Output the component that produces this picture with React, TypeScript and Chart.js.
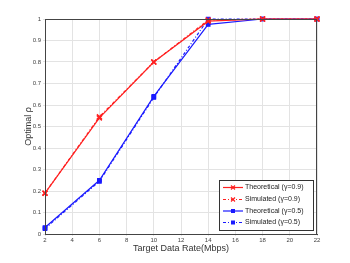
import React, { useEffect, useRef } from "react";
import { Chart, registerables } from "chart.js";
Chart.register(...registerables);

const rates = [2, 6, 10, 14, 18, 22];
const theo09 = [0.19, 0.54, 0.8, 0.99, 1, 1];
const sim09 = [0.19, 0.545, 0.8, 0.995, 1, 1];
const theo05 = [0.03, 0.25, 0.64, 0.975, 1, 1];
const sim05 = [0.025, 0.245, 0.635, 1.0, 1, 1];
const labels = [
  "Theoretical (\u03B3=0.9)",
  "Simulated (\u03B3=0.9)",
  "Theoretical (\u03B3=0.5)",
  "Simulated (\u03B3=0.5)",
];
const xTicks = [2, 4, 6, 8, 10, 12, 14, 16, 18, 20, 22];

const FONT = "'Liberation Sans', Arial, sans-serif";

const legendPlugin = {
  id: "matlabLegend",
  afterDraw(chart: any) {
    const ctx = chart.ctx;
    const ca = chart.chartArea;
    ctx.save();
    ctx.strokeStyle = "#444";
    ctx.lineWidth = 1;
    ctx.strokeRect(ca.left + 0.5, ca.top + 0.5, ca.right - ca.left - 1, ca.bottom - ca.top);
    const x0 = 219, y0 = 180, w = 94, h = 50;
    ctx.fillStyle = "#fff";
    ctx.fillRect(x0, y0, w, h);
    ctx.strokeStyle = "#333";
    ctx.strokeRect(x0 + 0.5, y0 + 0.5, w, h);
    const rows = [187.5, 199.5, 211, 222.5];
    chart.data.datasets.forEach((ds: any, i: number) => {
      const y = rows[i];
      ctx.strokeStyle = ds.borderColor;
      ctx.lineWidth = 1.2;
      ctx.setLineDash(ds.borderDash || []);
      ctx.beginPath();
      ctx.moveTo(223, y);
      ctx.lineTo(243, y);
      ctx.stroke();
      ctx.setLineDash([]);
      ctx.fillStyle = ds.borderColor;
      if (ds.pointStyle === "crossRot") {
        ctx.beginPath();
        ctx.moveTo(231, y - 2);
        ctx.lineTo(235, y + 2);
        ctx.moveTo(231, y + 2);
        ctx.lineTo(235, y - 2);
        ctx.stroke();
      } else {
        ctx.fillRect(231, y - 2, 4, 4);
      }
      ctx.fillStyle = "#222";
      ctx.font = "7px " + FONT;
      ctx.textBaseline = "middle";
      ctx.fillText(ds.label, 245, y);
    });
    ctx.restore();
  },
};

export default function App() {
  const ref = useRef<HTMLCanvasElement>(null);
  useEffect(() => {
    const red = "#ff2020";
    const blue = "#1a1aff";
    const common = { borderWidth: 1.2, clip: false as any };
    const chart = new Chart(ref.current!, {
      type: "line",
      data: {
        datasets: [
          {
            label: labels[0],
            data: rates.map((x, i) => ({ x, y: theo09[i] })),
            borderColor: red,
            backgroundColor: red,
            pointStyle: "crossRot",
            pointRadius: 3.5,
            pointBorderWidth: 1.5,
            ...common,
          },
          {
            label: labels[1],
            data: rates.map((x, i) => ({ x, y: sim09[i] })),
            borderColor: red,
            backgroundColor: red,
            borderDash: [3, 2, 1, 2],
            pointStyle: "crossRot",
            pointRadius: 3.5,
            pointBorderWidth: 1.5,
            ...common,
          },
          {
            label: labels[2],
            data: rates.map((x, i) => ({ x, y: theo05[i] })),
            borderColor: blue,
            backgroundColor: blue,
            pointStyle: "rect",
            pointRadius: 2.5,
            ...common,
          },
          {
            label: labels[3],
            data: rates.map((x, i) => ({ x, y: sim05[i] })),
            borderColor: blue,
            backgroundColor: blue,
            borderDash: [3, 2, 1, 2],
            pointStyle: "rect",
            pointRadius: 2.5,
            ...common,
          },
        ],
      },
      options: {
        animation: false,
        responsive: false,
        layout: { padding: { top: 19, right: 33, left: 23, bottom: 9 } },
        plugins: { legend: { display: false }, tooltip: { enabled: false } },
        scales: {
          x: {
            type: "linear",
            min: 2,
            max: 22,
            afterBuildTicks: (s: any) => {
              s.ticks = xTicks.map((v) => ({ value: v }));
            },
            afterFit: (s: any) => {
              s.height = 20;
            },
            ticks: { font: { size: 6, family: FONT }, color: "#444", padding: 1 },
            grid: { color: "#e3e3e3", tickLength: 2 },
            border: { color: "#444" },
            title: {
              display: true,
              text: "Target Data Rate(Mbps)",
              font: { size: 9, family: FONT },
              color: "#333",
              padding: { top: 0, bottom: 0 },
            },
          },
          y: {
            min: 0,
            max: 1,
            afterFit: (s: any) => {
              s.width = 22;
            },
            ticks: {
              stepSize: 0.1,
              font: { size: 6, family: FONT },
              color: "#444",
              padding: 2,
              callback: (v: any) => (v === 0 || v === 1 ? String(v) : Number(v).toFixed(1)),
            },
            grid: { color: "#e3e3e3", tickLength: 2 },
            border: { color: "#444" },
            title: {
              display: true,
              text: "Optimal \u03C1",
              font: { size: 9, family: FONT },
              color: "#333",
              padding: { top: 0, bottom: 0 },
            },
          },
        },
      },
      plugins: [legendPlugin],
    });
    return () => chart.destroy();
  }, []);
  return (
    <div style={{ position: "fixed", left: 0, top: 0, width: 350, height: 263, background: "#fff" }}>
      <canvas ref={ref} width={350} height={263} style={{ width: 350, height: 263 }} />
    </div>
  );
}
